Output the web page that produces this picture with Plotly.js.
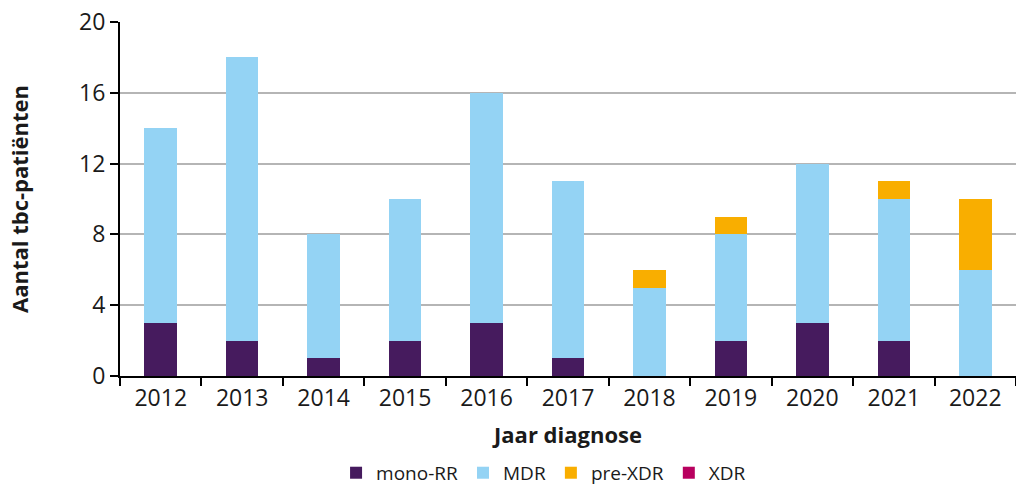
<!DOCTYPE html>
<html><head><meta charset="utf-8">
<script src="https://cdn.plot.ly/plotly-3.0.1.min.js"></script>
<style>html,body{margin:0;padding:0;background:#fff}#c{width:1016px;height:485px}</style>
</head><body><div id="c"></div>
<script>
const years = ['2012','2013','2014','2015','2016','2017','2018','2019','2020','2021','2022'];
const monoRR = [3,2,1,2,3,1,0,2,3,2,0];
const mdr    = [11,16,7,8,13,10,5,6,9,8,6];
const preXDR = [0,0,0,0,0,0,1,1,0,1,4];
const xdr    = [0,0,0,0,0,0,0,0,0,0,0];
const yTicks = [0,4,8,12,16,20];

const mk = (name, y, color) => ({type:'bar', name, x:years, y, marker:{color, line:{width:0}}, hoverinfo:'y'});
const data = [
  mk('mono-RR', monoRR, '#461b5e'),
  mk('MDR', mdr, '#94d3f4'),
  mk('pre-XDR', preXDR, '#f9ae00'),
  mk('XDR', xdr, '#b8005f')
];
const font = 'Open Sans, Noto Sans, sans-serif';
const layout = {
  width:1016, height:485, barmode:'stack', bargap:0.6,
  margin:{l:120, r:0, t:22, b:109},
  paper_bgcolor:'#fff', plot_bgcolor:'#fff',
  font:{family:font, color:'#1a1a1a', size:22},
  showlegend:true,
  legend:{orientation:'h', x:0.535, xanchor:'center', xref:'container', yref:'container', y:0.025, yanchor:'middle', font:{size:19}, traceorder:'normal', itemwidth:30},
  xaxis:{type:'category', showline:true, linecolor:'#000', linewidth:2, ticks:'outside', tickson:'boundaries', ticklen:8, tickcolor:'#000', tickwidth:2, tickfont:{size:23}, title:{text:'Jaar diagnose', font:{size:22, weight:'bold'}, standoff:16}},
  yaxis:{range:[0,20], tickvals:yTicks, showline:true, linecolor:'#000', linewidth:2, ticks:'outside', ticklen:8, tickcolor:'#000', tickwidth:2, gridcolor:'#b5b5b5', gridwidth:2, zeroline:false, tickfont:{size:23}, title:{text:'Aantal tbc-patiënten', font:{size:22, weight:'bold'}, standoff:44}}
};
Plotly.newPlot('c', data, layout, {displayModeBar:false, staticPlot:true});
</script></body></html>
